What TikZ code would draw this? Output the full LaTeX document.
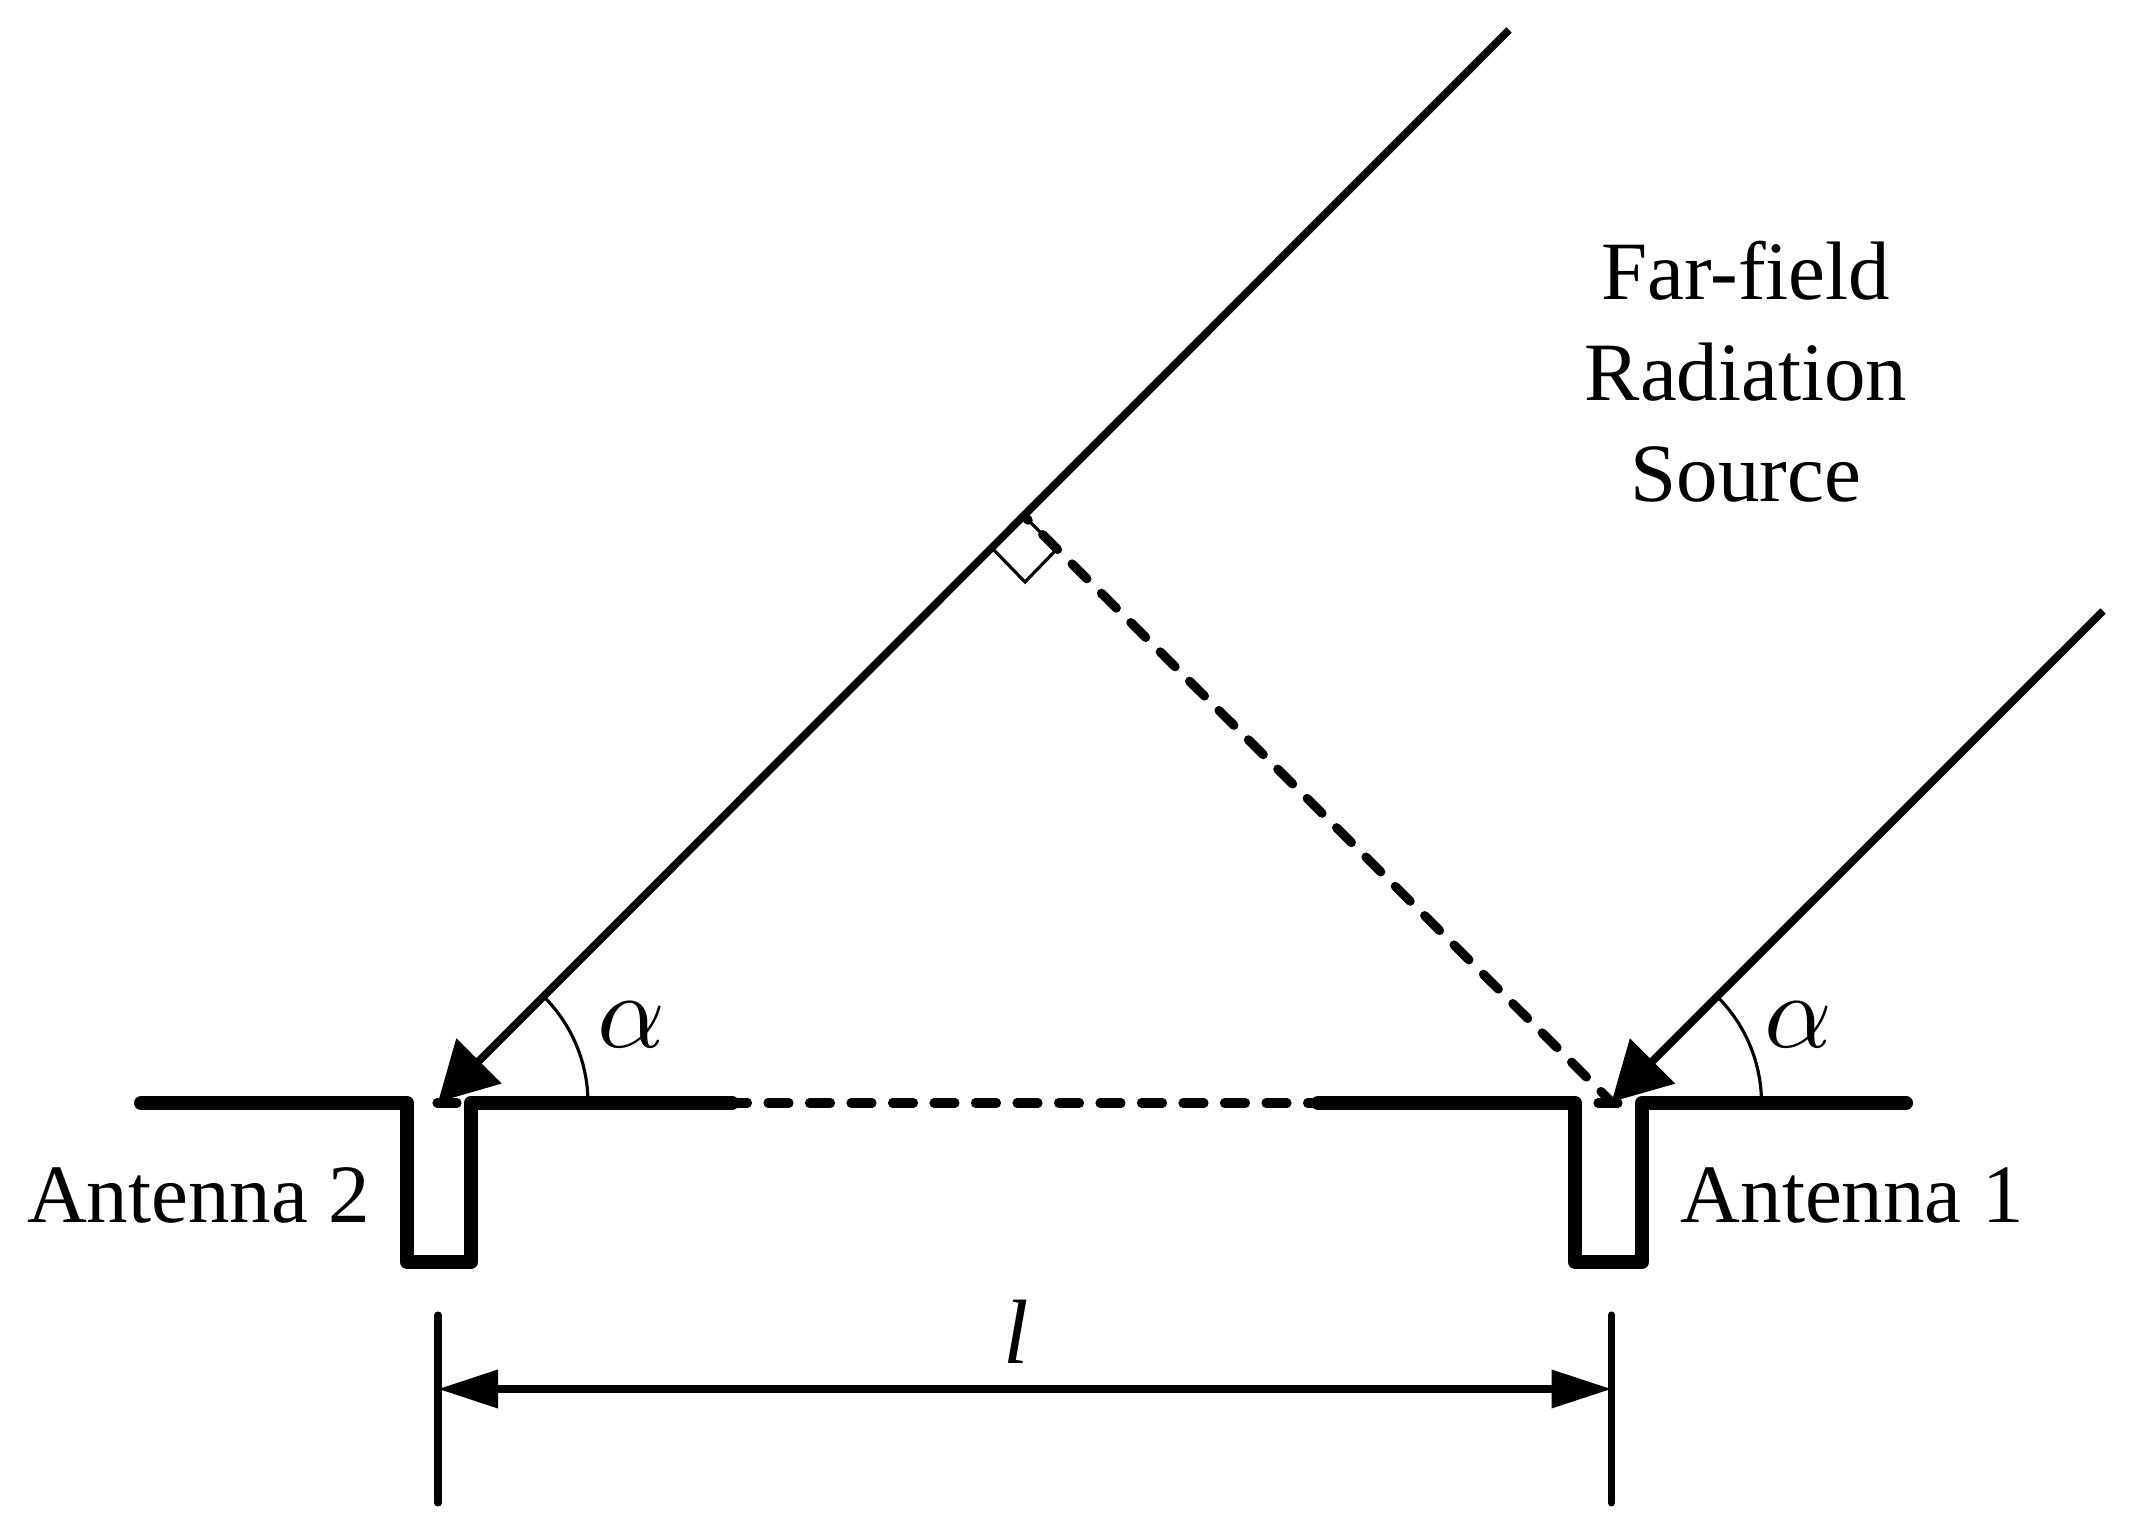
\documentclass[tikz,border=0pt]{standalone}
\usepackage{fontspec}
\setmainfont{Liberation Serif}
\usetikzlibrary{arrows.meta}

\tikzstyle{antenna} = [line width=4pt, line join=round, line cap=round]
\tikzstyle{ray} = [line width=2.2pt, -{Triangle[length=0.58cm,width=0.62cm]}]
\tikzstyle{path} = [line width=2.6pt, line cap=round, dash pattern=on 0.21cm off 0.205cm]
\tikzstyle{thin line} = [line width=0.9pt]
\tikzstyle{ticks} = [line width=2pt, line cap=round]
\tikzstyle{span} = [line width=2pt, {Triangle[length=0.6cm,width=0.37cm]}-{Triangle[length=0.6cm,width=0.37cm]}]
\tikzstyle{label} = [font=\fontsize{23.6pt}{28.7pt}\selectfont, align=center, inner sep=0pt]
\tikzstyle{angle label} = [scale=3, inner sep=0pt]

\begin{document}
\begin{tikzpicture}
	\useasboundingbox (0,0) rectangle (21.41,15.32);
	% feed points and far ends of the rays
	\coordinate (tipb) at (4.38,4.30);
	\coordinate (tipa) at (16.115,4.30);
	\coordinate (farb) at (15.09,15.02);
	\coordinate (fara) at (21.03,9.21);
	\coordinate (foot) at (10.25,10.15);
	% antennas
	\draw[antenna] (1.41,4.29) -| (4.07,2.70) -| (4.71,4.29) -- (7.32,4.29) coordinate (endb);
	\draw[antenna] (13.18,4.29) coordinate (enda) -| (15.75,2.70) -| (16.42,4.29) -- (19.06,4.29);
	\draw[path, dash phase=0.055cm] (endb) -- (enda);
	\foreach \x in {4.37,15.98} {
		\draw[line width=2.6pt, line cap=round] (\x,4.29) -- ++(0.2,0);
	}
	% rays
	\draw[ray] (farb) -- (tipb);
	\draw[ray] (fara) -- (tipa);
	\draw[path, dash phase=0.165cm] (foot) -- (tipa);
	% right angle
	\draw[thin line] (foot) -- ++(0.32,-0.32) -- ++(-0.32,-0.33) -- ++(-0.32,0.33);
	% angles
	\foreach \p in {tipb,tipa} {
		\draw[thin line] (\p) ++(1.50,-0.01) arc (0:45:1.50);
	}
	\node[angle label] (alphab) at (6.31,5.07) {$\alpha$};
	\node[angle label] (alphaa) at (17.98,5.07) {$\alpha$};
	% labels
	\node[label] (source) at (17.46,11.6) {Far-field\\Radiation\\Source};
	\node[label, anchor=base east] (antb) at (3.71,3.09) {Antenna 2};
	\node[label, anchor=base west] (anta) at (16.80,3.09) {Antenna 1};
	% distance
	\coordinate (spanb) at (4.38,1.43);
	\coordinate (spana) at (16.115,1.43);
	\draw[ticks] (spanb) ++(0,0.74) -- ++(0,-1.88);
	\draw[ticks] (spana) ++(0,0.74) -- ++(0,-1.88);
	\draw[span] (spanb) -- (spana);
	\node[inner sep=0pt, font=\fontsize{26pt}{26pt}\selectfont\itshape] (dist) at (10.16,2.0) {l};
\end{tikzpicture}
\end{document}
